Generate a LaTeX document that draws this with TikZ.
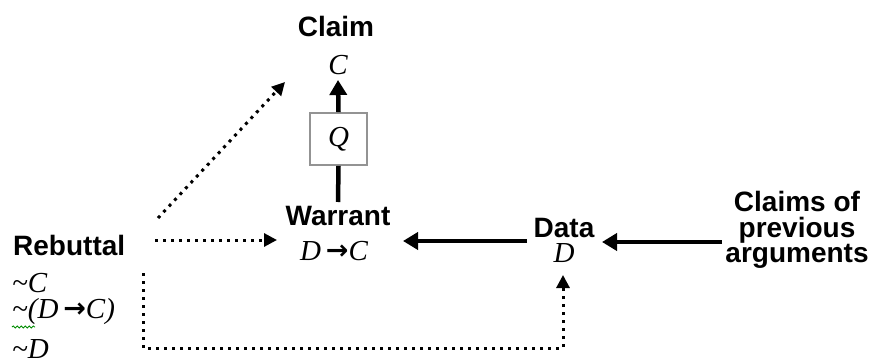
\documentclass[tikz,border=0pt]{standalone}
\usepackage{fontspec}
\setmainfont{Liberation Serif}
\newfontfamily\labelfont{Liberation Sans}
\newfontfamily\arrowfont{DejaVu Sans}
\usetikzlibrary{arrows.meta,decorations.pathmorphing}

\tikzset{
  lbl/.style={inner sep=0pt, font=\labelfont\bfseries\fontsize{28}{25.5}\selectfont, align=center},
  var/.style={inner sep=0pt, font=\itshape\fontsize{29}{29}\selectfont},
  qualbox/.style={draw=gray!85, line width=1.6pt, minimum width=57pt, minimum height=52pt,
                  inner sep=0pt, font=\itshape\fontsize{29}{29}\selectfont},
  solidarrow/.style={line width=4.5pt, -{Triangle[length=15pt,width=17pt]}},
  solidline/.style={line width=4.5pt},
  dotline/.style={line width=3pt, dash pattern=on 3pt off 5pt},
  dotarrow/.style={dotline, -{Triangle[length=13pt,width=13pt]}},
  squiggle/.style={draw=green!55!black, line width=0.8pt,
                   decorate, decoration={snake, amplitude=1.1pt, segment length=4pt}}
}
% bold implication arrow set between italic letters
\newcommand{\implarrow}{{\arrowfont\bfseries\fontsize{27}{27}\selectfont\raisebox{0.5pt}{→}}}

\begin{document}
\begin{tikzpicture}[x=1pt, y=-1pt]
  \useasboundingbox (0,0) rectangle (877,358);

  % Claim with its qualifier
  \node[lbl, anchor=base] (claim) at (336,37) {Claim};
  \node[var, anchor=base] (cvar) at (338,75) {C};
  \node[qualbox] (qbox) at (338.5,139) {Q};

  % Warrant
  \node[lbl, anchor=base] (warrant) at (338,225) {Warrant};
  \node[var, anchor=base] (dc) at (334,260) {D\,\implarrow C};

  % Data
  \node[lbl, anchor=base] (data) at (564,237) {Data};
  \node[var, anchor=base] (dvar) at (564,262) {D};

  % Source of the data
  \node[lbl] (prev) at (797,230) {Claims of\\previous\\arguments};

  % Rebuttal and its three forms
  \node[lbl, anchor=base west] (rebuttal) at (13,255) {Rebuttal};
  \node[var, anchor=base west] (notc) at (12,292) {\char`\~C};
  \node[var, anchor=base west] (notdc) at (12,318) {\char`\~(D\,\implarrow C)};
  \node[var, anchor=base west] (notd) at (12,358) {\char`\~D};
  \draw[squiggle] (12,327) -- (35,327);

  % connector ends
  \coordinate (c-in)   at (338,80);
  \coordinate (w-top)  at (338,202);
  \coordinate (w-in)   at (403,241);
  \coordinate (d-out)  at (527,241);
  \coordinate (d-in)   at (602,242);
  \coordinate (p-out)  at (722,242);
  \coordinate (r-diag) at (158,218);
  \coordinate (c-side) at (285,82);
  \coordinate (r-hor)  at (155,240);
  \coordinate (w-side) at (277,240);
  \coordinate (r-down) at (143,273);
  \coordinate (r-low)  at (143,348);
  \coordinate (d-low)  at (563,348);
  \coordinate (d-bot)  at (563,275);

  % solid connectors
  \draw[solidarrow] (qbox.north) -- (c-in);
  \draw[solidline] (w-top) -- (qbox.south);
  \draw[solidarrow] (d-out) -- (w-in);
  \draw[solidarrow] (p-out) -- (d-in);

  % dotted rebuttal connectors
  \draw[dotarrow] (r-diag) -- (c-side);
  \draw[dotarrow] (r-hor) -- (w-side);
  \draw[dotarrow] (r-down) -- (r-low) -- (d-low) -- (d-bot);
\end{tikzpicture}
\end{document}
